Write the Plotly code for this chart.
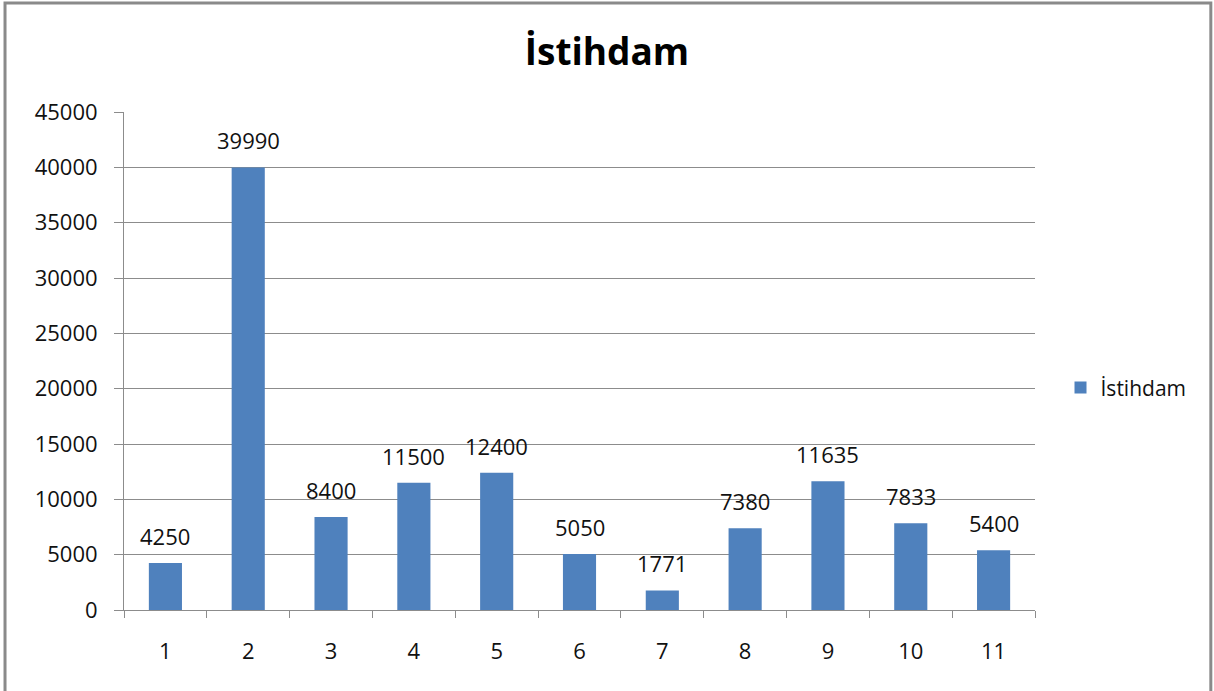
import plotly.graph_objects as go

categories = ["1", "2", "3", "4", "5", "6", "7", "8", "9", "10", "11"]
istihdam = [4250, 39990, 8400, 11500, 12400, 5050, 1771, 7380, 11635, 7833, 5400]
y_ticks = [0, 5000, 10000, 15000, 20000, 25000, 30000, 35000, 40000, 45000]

FONT = "Open Sans"
GRID = "#8c8c8c"

fig = go.Figure()
fig.add_trace(
	go.Bar(
		x=categories,
		y=istihdam,
		name="İstihdam",
		marker=dict(color="#4f81bd", line=dict(width=0)),
	)
)

# value labels above the bars, a bit further off than plotly's outside text
# (x is the category index, numeric-looking names would be read as positions)
for i, val in enumerate(istihdam):
	fig.add_annotation(
		x=i,
		y=val,
		text=str(val),
		showarrow=False,
		yanchor="bottom",
		yshift=10,
		font=dict(family=FONT, size=22, color="#111"),
	)

fig.update_layout(
	width=1214,
	height=691,
	margin=dict(l=124, r=179, t=112, b=81),
	paper_bgcolor="white",
	plot_bgcolor="white",
	bargap=0.6,
	font=dict(family=FONT, size=22, color="#111"),
	title=dict(
		text="<b>İstihdam</b>",
		x=0.5,
		xanchor="center",
		y=0.925,
		yanchor="middle",
		font=dict(family=FONT, size=37, color="#000"),
	),
	showlegend=True,
	legend=dict(
		x=1.028,
		y=0.446,
		xanchor="left",
		yanchor="middle",
		font=dict(family=FONT, size=21, color="#111"),
		itemwidth=30,
	),
	xaxis=dict(
		type="category",
		categoryorder="array",
		categoryarray=categories,
		range=[-0.5, len(categories) - 0.5],
		showgrid=False,
		showline=True,
		linecolor=GRID,
		linewidth=1,
		ticks="outside",
		tickson="boundaries",
		ticklen=7,
		tickcolor=GRID,
		ticklabelstandoff=22,
		tickfont=dict(family=FONT, size=22, color="#111"),
	),
	yaxis=dict(
		range=[0, 45000],
		tickvals=y_ticks,
		ticktext=[str(v) for v in y_ticks],
		showgrid=True,
		gridcolor=GRID,
		gridwidth=1,
		showline=True,
		linecolor=GRID,
		linewidth=1,
		ticks="outside",
		ticklen=9,
		tickcolor=GRID,
		ticklabelstandoff=12,
		zeroline=False,
		tickfont=dict(family=FONT, size=22, color="#111"),
	),
)

# outer chart border like the Excel chart frame
fig.add_shape(
	type="rect",
	xref="paper",
	yref="paper",
	x0=-0.1306,
	x1=1.193,
	y0=-0.2,
	y1=1.219,
	line=dict(color="#8a8a8a", width=3),
	layer="below",
)

# drop the default page margin so the figure sits at the window corner
fig.write_html(
	"out.html",
	config={"displayModeBar": False},
	post_script="document.body.style.margin='0';",
)
